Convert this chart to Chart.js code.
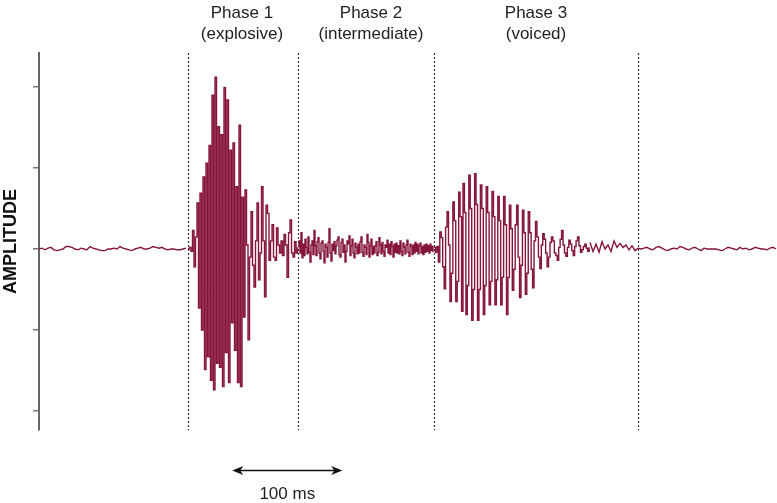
<!DOCTYPE html>
<html lang="en">
  <head>
    <meta charset="utf-8" />
    <title>Stop consonant waveform</title>
    <style>
      * {
        margin: 0;
        padding: 0;
      }
      body {
        background: white;
      }
    </style>
  </head>
  <body>
    <canvas id="myChart" width="777" height="503"></canvas>

    <script src="https://cdn.jsdelivr.net/npm/chart.js"></script>

    <script>
      // phase annotations (ms)
      const phaseNames = ["Phase 1", "Phase 2", "Phase 3"];
      const phaseKinds = ["(explosive)", "(intermediate)", "(voiced)"];
      const phaseLabelMs = [184.5, 301.8, 451.8];
      const boundaryMs = [135.5, 235.5, 359.1, 544.5];
      const scaleBarMs = [175.7, 275.7];
      const scaleBarText = "100 ms";

      // waveform, one array per stretch
      // each stretch: start time (ms) and sample spacing (ms)
      const segStartMs = [0, 135.45, 235.45, 359.09, 500.91];
      const segStepMs = [2.727, 1.364, 0.909, 1.318, 2.727];
      const segStepped = [false, true, true, true, false];

      const silenceBefore = [
        0.0, 0.01, -0.01, 0.01, 0.02, -0.01, -0.02, -0.01, 0.0, 0.03,
        0.03, 0.02, 0.0, -0.01, 0.01, 0.0, -0.01, 0.03, 0.01, 0.0,
        -0.01, -0.02, -0.02, 0.0, 0.0, 0.01, 0.0, 0.03, 0.01, 0.0,
        -0.01, -0.02, 0.0, 0.01, 0.02, 0.0, 0.0, 0.01, 0.03, 0.02,
        0.01, 0.02, 0.0, -0.01, 0.0, 0.0, -0.01, -0.01, 0.0, 0.01,
      ];
      const burst = [
        0.0, 0.02, -0.03, 0.23, -0.22, 0.15, 0.57, -0.73, 0.69, -1.0,
        0.89, -1.49, 1.06, -1.33, 1.28, -1.62, 1.9, -1.74, 2.12, -1.41,
        1.51, -1.46, 1.41, -1.7, 1.99, -1.28, 1.84, -1.65, 1.22, -0.91,
        1.31, -1.25, 0.77, -1.65, 1.53, -1.7, 0.64, -0.84, 0.73, 0.05,
        -1.12, -0.1, 0.46, -0.2, -0.47, 0.1, 0.57, -0.38, -0.05, 0.77,
        0.1, -0.59, 0.54, 0.44, -0.14, 0.1, 0.3, -0.1, -0.14, 0.26,
        0.05, -0.05, 0.1, -0.08, 0.18, 0.05, -0.35, 0.2, 0.36, -0.05,
        -0.1, 0.09, -0.05, 0.02,
      ];
      const frication = [
        0.03, 0.1, -0.05, 0.2, -0.11, 0.06, -0.08, 0.12, 0.02, -0.06,
        0.15, -0.04, -0.16, 0.05, 0.1, -0.07, 0.23, 0.04, -0.08, 0.09,
        0.14, -0.05, -0.12, 0.07, 0.1, -0.03, -0.17, 0.06, 0.02, -0.1,
        0.08, 0.25, -0.05, -0.15, 0.06, -0.02, 0.09, -0.06, 0.04, 0.11,
        0.15, -0.07, -0.1, 0.08, 0.12, -0.04, 0.05, -0.16, -0.03, 0.1,
        0.06, 0.16, -0.08, 0.04, 0.12, -0.05, -0.11, 0.07, 0.02, -0.06,
        0.06, -0.05, 0.09, 0.15, -0.04, -0.09, 0.05, 0.02, -0.07, 0.18,
        0.08, -0.1, 0.04, 0.12, -0.07, 0.03, -0.05, 0.04, 0.09, -0.08,
        -0.04, 0.14, 0.05, -0.06, 0.08, -0.03, -0.09, 0.05, 0.02, 0.11,
        -0.05, 0.06, -0.07, 0.09, 0.03, -0.1, 0.06, -0.04, 0.07, -0.05,
        0.04, -0.06, 0.1, -0.03, -0.08, 0.07, 0.02, -0.06, 0.05, 0.11,
        -0.04, -0.09, 0.06, 0.03, -0.07, 0.05, -0.05, 0.08, -0.03, 0.06,
        -0.06, 0.04, 0.07, -0.05, 0.03, -0.07, 0.05, -0.04, 0.06, -0.03,
        0.04, -0.05, 0.06, -0.02, 0.03, -0.04,
      ];
      const voicing = [
        0.02, -0.04, 0.03, -0.16, 0.21, 0.14, -0.22, -0.49, 0.27, 0.46,
        0.05, -0.65, -0.3, 0.58, 0.35, -0.65, -0.4, 0.7, 0.4, -0.77,
        0.81, 0.45, -0.81, -0.45, 0.91, 0.5, -0.88, -0.5, 0.93, 0.55,
        -0.88, -0.5, 0.79, 0.5, -0.81, -0.45, 0.77, 0.45, -0.69, -0.4,
        0.71, 0.4, -0.69, -0.38, 0.65, 0.35, -0.69, -0.35, 0.65, 0.3,
        -0.81, -0.35, 0.54, 0.25, -0.51, -0.25, 0.3, 0.54, -0.1, -0.6,
        -0.2, 0.48, 0.2, -0.56, -0.3, 0.46, 0.2, -0.25, -0.48, 0.1,
        0.34, 0.15, -0.1, -0.24, 0.05, 0.19, 0.12, -0.05, -0.22, -0.1,
        0.08, 0.15, 0.1, -0.05, -0.08, -0.14, 0.02, 0.12, 0.23, 0.05,
        -0.05, -0.09, 0.02, 0.11, 0.06, -0.02, -0.08, 0.03, 0.1, 0.15,
        0.04, -0.04, -0.01, 0.03, 0.06, 0.01, -0.03, 0.02,
      ];
      const silenceAfter = [
        0.08, -0.03, 0.06, -0.04, 0.09, 0.0, 0.05, -0.03, 0.1, 0.02,
        0.07, 0.02, 0.05, -0.01, 0.04, -0.02, 0.01, 0.0, 0.01, 0.02,
        0.0, -0.01, 0.02, 0.03, 0.01, -0.01, -0.02, 0.0, 0.01, 0.0,
        0.03, 0.02, 0.0, -0.01, 0.01, 0.02, 0.0, -0.02, 0.01, 0.0,
        0.0, 0.0, 0.0, -0.01, -0.02, 0.0, 0.02, 0.01, 0.0, -0.01,
        0.02, 0.0, 0.01, -0.01, 0.0, 0.02, 0.01, 0.0, 0.0, -0.01,
        0.01, 0.02, 0.0,
      ];

      const segments = [silenceBefore, burst, frication, voicing, silenceAfter];
      const waveColor = "#86153b";

      const datasets = segments.map((seg, s) => ({
        data: seg.map((v, i) => ({ x: segStartMs[s] + i * segStepMs[s], y: v })),
        borderColor: waveColor,
        borderWidth: 1.4,
        pointRadius: 0,
        stepped: segStepped[s],
        fill: false,
      }));

      const font = '"Liberation Sans", Arial, Helvetica, sans-serif';

      // dashed phase lines, phase labels and the 100 ms scale bar
      const annotations = {
        id: "annotations",
        beforeDatasetsDraw(chart) {
          const { ctx, chartArea, scales } = chart;
          ctx.save();
          ctx.strokeStyle = "#333";
          ctx.lineWidth = 1.2;
          ctx.setLineDash([2, 2]);
          boundaryMs.forEach((t) => {
            const x = Math.round(scales.x.getPixelForValue(t)) + 0.5;
            ctx.beginPath();
            ctx.moveTo(x, chartArea.top);
            ctx.lineTo(x, chartArea.bottom);
            ctx.stroke();
          });
          ctx.restore();
        },
        afterDraw(chart) {
          const { ctx, scales } = chart;
          ctx.save();
          ctx.fillStyle = "#222";
          ctx.font = "17px " + font;
          ctx.textAlign = "center";
          ctx.textBaseline = "alphabetic";
          phaseNames.forEach((name, i) => {
            const x = scales.x.getPixelForValue(phaseLabelMs[i]);
            ctx.fillText(name, x, 18);
            ctx.fillText(phaseKinds[i], x, 38.5);
          });

          // scale bar
          const x0 = scales.x.getPixelForValue(scaleBarMs[0]);
          const x1 = scales.x.getPixelForValue(scaleBarMs[1]);
          const y = 470.5;
          ctx.strokeStyle = "#111";
          ctx.fillStyle = "#111";
          ctx.lineWidth = 1.5;
          ctx.beginPath();
          ctx.moveTo(x0 + 6, y);
          ctx.lineTo(x1 - 6, y);
          ctx.stroke();
          [
            [x0, 1],
            [x1, -1],
          ].forEach(([x, d]) => {
            ctx.beginPath();
            ctx.moveTo(x, y);
            ctx.lineTo(x + 11 * d, y - 4.5);
            ctx.lineTo(x + 8 * d, y);
            ctx.lineTo(x + 11 * d, y + 4.5);
            ctx.closePath();
            ctx.fill();
          });
          ctx.fillStyle = "#222";
          ctx.fillText(scaleBarText, (x0 + x1) / 2, 498.5);
          ctx.restore();
        },
      };

      const config = {
        type: "line",
        data: { datasets: datasets },
        options: {
          responsive: false,
          animation: false,
          parsing: false,
          layout: {
            padding: { left: 0, right: 0, top: 53, bottom: 73 },
          },
          plugins: {
            legend: { display: false },
            tooltip: { enabled: false },
          },
          scales: {
            x: {
              type: "linear",
              min: 0,
              max: 670.9,
              display: false,
            },
            y: {
              min: -2.235,
              max: 2.42,
              ticks: { display: false, stepSize: 1, includeBounds: false },
              grid: {
                drawOnChartArea: false,
                drawTicks: true,
                tickLength: 6,
                color: "#777",
                lineWidth: 1.5,
              },
              border: { display: true, color: "#666", width: 2 },
              title: {
                display: true,
                text: "AMPLITUDE",
                color: "#111",
                font: { family: font, size: 18, weight: "bold", lineHeight: 1 },
                padding: { top: 2, bottom: 13 },
              },
            },
          },
        },
        plugins: [annotations],
      };

      const myChart = new Chart(document.getElementById("myChart"), config);
    </script>
  </body>
</html>
